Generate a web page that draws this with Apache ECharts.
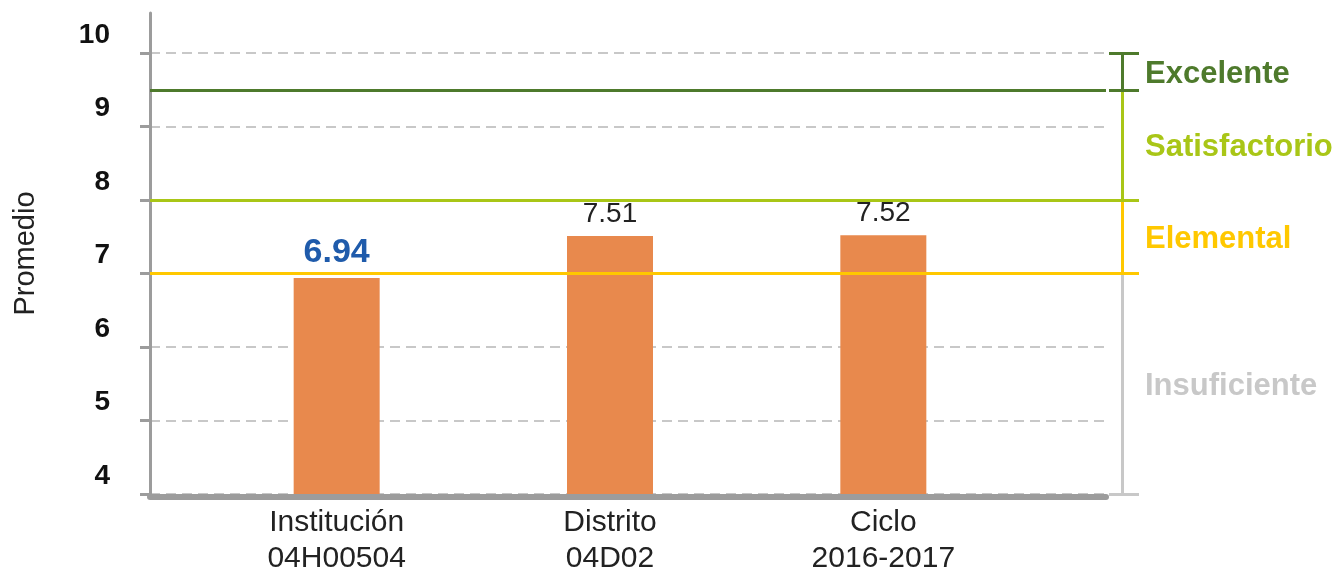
<!DOCTYPE html>
<html>
<head>
<meta charset="utf-8">
<script src="https://cdn.jsdelivr.net/npm/echarts@6/dist/echarts.min.js"></script>
<style>
  html, body { margin: 0; padding: 0; background: #fff; }
  #chart { width: 1336px; height: 571px; }
</style>
</head>
<body>
<div id="chart"></div>
<script>
// datos
const categorias = ['Institución\n04H00504', 'Distrito\n04D02', 'Ciclo\n2016-2017'];
const promedios = [6.94, 7.51, 7.52];
const yMin = 4;
const yMax = 10;
const niveles = ['Excelente', 'Satisfactorio', 'Elemental', 'Insuficiente'];
const limInf = [9.5, 8, 7, 4];
const limSup = [10, 9.5, 8, 7];

const coloresNivel = ['#4e7a2c', '#a9c617', '#ffc800', '#c8c8c8'];
const FONT = '"Liberation Sans", Arial, sans-serif';

const chart = echarts.init(document.getElementById('chart'));

// eje y oculto con la misma escala
function yHidden(idx) {
  return { gridIndex: idx, type: 'value', min: yMin, max: yMax, interval: 1, show: false };
}
function xHidden(idx) {
  return { gridIndex: idx, type: 'value', min: 0, max: 1, show: false };
}
function grid(left, right, top, bottom) {
  return { left: left, right: right, top: top, bottom: bottom, outerBoundsMode: 'none', containLabel: false };
}
const sinSimbolo = ['none', 'none'];

const series = [
  {
    name: 'Promedio',
    type: 'bar',
    xAxisIndex: 1,
    yAxisIndex: 1,
    barWidth: 86,
    z: 2,
    itemStyle: { color: '#e8894d' },
    data: promedios.map((v, i) => ({
      value: v,
      label: i === 0
        ? { color: '#1f5bab', fontWeight: 'bold', fontSize: 34 }
        : { color: '#222', fontWeight: 'normal', fontSize: 28 }
    })),
    label: {
      show: true,
      position: 'top',
      distance: 8,
      fontFamily: FONT,
      formatter: p => p.value.toFixed(2)
    }
  },
  // linea Excelente dentro del area
  {
    type: 'line', xAxisIndex: 0, yAxisIndex: 0, data: [], z: 5,
    markLine: {
      silent: true, symbol: sinSimbolo, label: { show: false },
      lineStyle: { color: coloresNivel[0], width: 3, type: 'solid' },
      data: [{ yAxis: limInf[0] }]
    }
  },
  // lineas Satisfactorio y Elemental hasta el corchete
  {
    type: 'line', xAxisIndex: 4, yAxisIndex: 4, data: [], z: 5,
    markLine: {
      silent: true, symbol: sinSimbolo, label: { show: false },
      lineStyle: { width: 3, type: 'solid' },
      data: [
        { yAxis: limInf[1], lineStyle: { color: coloresNivel[1] } },
        { yAxis: limInf[2], lineStyle: { color: coloresNivel[2] } }
      ]
    }
  },
  // marcas del corchete
  {
    type: 'line', xAxisIndex: 3, yAxisIndex: 3, data: [], z: 5,
    markLine: {
      silent: true, symbol: sinSimbolo, label: { show: false },
      lineStyle: { width: 3, type: 'solid' },
      data: [
        { yAxis: limSup[0], lineStyle: { color: coloresNivel[0] } },
        { yAxis: limInf[0], lineStyle: { color: coloresNivel[0] } },
        { yAxis: limInf[3], lineStyle: { color: coloresNivel[3] } }
      ]
    }
  }
];

// tramos verticales del corchete
niveles.forEach((n, i) => {
  series.push({
    type: 'line', xAxisIndex: 3, yAxisIndex: 3, z: 4,
    symbol: 'none', silent: true,
    lineStyle: { color: coloresNivel[i], width: 3 },
    data: [[0.45, limInf[i]], [0.45, limSup[i]]]
  });
});

// etiquetas de nivel
series.push({
  type: 'scatter', xAxisIndex: 3, yAxisIndex: 3, symbolSize: 0, silent: true,
  itemStyle: { opacity: 1 },
  data: niveles.map((n, i) => ({
    value: [1, (limInf[i] + limSup[i]) / 2],
    name: n,
    label: { color: coloresNivel[i] }
  })),
  label: {
    show: true, position: 'right', distance: 6, offset: [0, 3],
    fontFamily: FONT, fontWeight: 'bold', fontSize: 31,
    formatter: p => p.name
  }
});

const option = {
  animation: false,
  backgroundColor: '#fff',
  grid: [
    grid(150, 230, 53, 77),   // 0 principal
    grid(200, 316, 53, 77),   // 1 barras
    grid(150, 230, 13, 77),   // 2 linea del eje y
    grid(1109, 197, 53, 77),  // 3 corchete
    grid(150, 197, 53, 77)    // 4 umbrales
  ],
  xAxis: [
    {
      gridIndex: 0, type: 'value', min: 0, max: 1,
      axisLine: { show: true, onZero: false, lineStyle: { color: '#9c9c9c', width: 6 } },
      offset: 3,
      axisTick: { show: false }, axisLabel: { show: false }, splitLine: { show: false }
    },
    {
      gridIndex: 1, type: 'category', data: categorias,
      axisLine: { show: false }, axisTick: { show: false },
      axisLabel: {
        margin: 11, color: '#222', fontFamily: FONT, fontSize: 30, lineHeight: 36
      }
    },
    xHidden(2),
    xHidden(3),
    xHidden(4)
  ],
  yAxis: [
    {
      gridIndex: 0, type: 'value', min: yMin, max: yMax, interval: 1,
      axisLine: { show: false },
      axisTick: { show: true, length: 10, lineStyle: { color: '#9c9c9c', width: 3 } },
      splitLine: { show: true, lineStyle: { color: '#c8c8c8', width: 2, type: [10, 6] } },
      axisLabel: {
        margin: 40, color: '#111', fontFamily: FONT, fontSize: 28, fontWeight: 'bold',
        verticalAlign: 'bottom', lineHeight: 28, padding: [0, 0, 4, 0]
      }
    },
    yHidden(1),
    {
      gridIndex: 2, type: 'value', min: 0, max: 1,
      axisLine: { show: true, lineStyle: { color: '#9c9c9c', width: 3 } },
      axisTick: { show: false }, axisLabel: { show: false }, splitLine: { show: false },
      name: 'Promedio', nameLocation: 'middle', nameGap: 110,
      nameTextStyle: { color: '#222', fontFamily: FONT, fontSize: 29 }
    },
    yHidden(3),
    yHidden(4)
  ],
  series: series
};

chart.setOption(option);
window.addEventListener('resize', function () { chart.resize(); });
</script>
</body>
</html>
